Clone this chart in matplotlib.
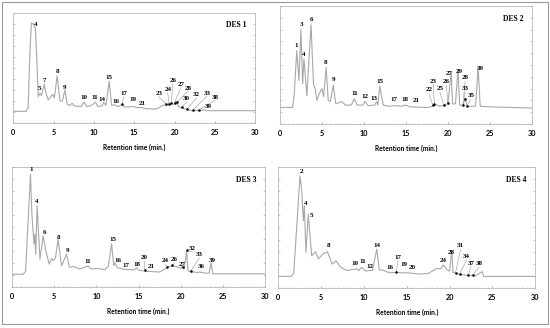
import numpy as np
import matplotlib.pyplot as plt
from matplotlib.patches import Rectangle

# ---- DES 1 trace (time in min, signal in % of panel height) ----
des1_t = [0, 1.6, 1.85, 2.05, 2.25, 2.5, 2.75, 2.95, 3.1, 3.3, 3.5, 3.85, 4.1, 4.35, 4.9, 5.1, 5.45,
          5.8, 6.1, 6.4, 6.7, 7.0, 7.3, 7.6, 8.4, 8.8, 9.1, 9.6, 10.2, 10.5, 11.0, 11.2, 11.5,
          11.9, 12.2, 12.6, 13.0, 13.45, 13.8, 14.9, 15.4, 15.9, 16.5, 17.5, 18.0, 18.5, 19.2,
          19.6, 19.9, 20.2, 20.5, 21.0, 22.0, 23.0, 23.6, 24.0, 30]
des1_y = [10.6, 10.6, 14, 60, 91, 90, 86, 55, 24, 27, 25, 35, 26, 21, 26, 23, 43,
          20, 20, 30, 17, 16, 18, 15.5, 15, 19, 15, 15.5, 19, 15, 15.5, 19, 16,
          38, 16, 16.5, 15, 16.5, 14.5, 15, 14, 14, 13, 12.7, 13.5, 16, 16.5,
          18, 17, 20, 15, 13.5, 11.5, 11.2, 12, 11.2, 11.2]
des1_lab = ['4', '5', '7', '8', '9', '10', '11', '14', '15', '16', '17', '19', '21', '23', '24',
            '26', '27', '28', '30', '32', '33', '38', '39']
des1_lt = [2.73, 3.31, 3.81, 5.46, 6.41, 8.81, 10.1, 11.05, 11.83, 12.75, 13.7, 14.86, 16.0,
           18.04, 19.16, 19.78, 20.77, 21.64, 21.48, 22.72, 24.0, 25.0, 24.2]
des1_ly = [89.4, 31.8, 38.5, 47, 32.4, 23.3, 23.3, 21.8, 41.8, 19.7, 26.7, 21.2, 18.2,
           27, 30.3, 38.5, 35.1, 31.8, 22.1, 25.8, 27.3, 23.6, 15.2]
des1_ptr = {'17': 13.45, '23': 19.0, '24': 19.3, '26': 19.6, '27': 20.0, '28': 20.3,
            '30': 20.9, '32': 21.6, '33': 22.3, '38': 23.0}

# ---- DES 2 ----
des2_t = [0, 1.5, 1.7, 2.0, 2.26, 2.5, 2.7, 2.86, 3.2, 3.7, 4.0, 4.2, 4.4, 4.7, 5.0, 5.2, 5.5,
          5.75, 6.0, 6.35, 6.65, 7.35, 7.8, 8.5, 8.85, 9.2, 9.9, 10.1, 10.5, 11.3, 11.5, 11.65,
          11.9, 12.3, 13.0, 13.6, 14.5, 14.9, 15.5, 17.5, 18.0, 18.2, 18.5, 19.0, 19.5, 20.0,
          20.4, 20.55, 20.9, 21.2, 21.4, 21.8, 22.05, 22.3, 22.8, 23.3, 23.6, 23.85, 25, 30]
des2_y = [14, 14, 25, 62, 37, 80, 34, 55, 24, 84, 33, 30, 20, 26, 30, 23, 48,
          20, 19, 33, 17, 19, 16, 16, 21.5, 16, 16, 19, 15.5, 16, 19, 16,
          32, 16, 15, 15.5, 15, 16, 14.5, 14, 14.5, 15.5, 16.5, 15, 16, 17,
          44, 17, 17, 46, 16, 16, 21.5, 15, 15, 15, 48, 15, 14.5, 13.5]
des2_lab = ['1', '3', '4', '6', '8', '9', '11', '12', '13', '15', '17', '18', '21', '22', '23',
            '25', '26', '27', '29', '28', '33', '35', '39']
des2_lt = [1.91, 2.58, 2.86, 3.7, 5.45, 6.36, 8.86, 10.13, 11.17, 11.96, 13.51, 14.94, 16.17,
           17.72, 18.24, 19.04, 19.83, 20.15, 21.38, 22.05, 22.05, 22.75, 23.84]
des2_ly = [66.6, 84, 58.8, 88.8, 52.4, 37.5, 25.8, 23, 21.6, 36.1, 20.7, 20.7, 20.2,
           29.1, 36.4, 30.0, 35.6, 43.1, 44.5, 39.2, 29.8, 23.8, 47]
des2_ptr = {'22': 18.2, '23': 18.4, '25': 19.5, '26': 20.0, '28': 21.8, '33': 22.0, '35': 22.3}

# ---- DES 3 ----
des3_t = [0, 1.3, 1.6, 2.18, 2.35, 2.6, 2.7, 2.8, 2.97, 3.3, 3.68, 4.0, 4.4, 4.67, 4.9, 5.15,
          5.46, 5.86, 6.45, 6.8, 7.3, 8.0, 9.0, 9.4, 10.0, 11.0, 11.4, 11.8, 12.05, 12.2, 12.5,
          13.5, 14.5, 14.76, 15.0, 16.0, 17.5, 18.0, 18.5, 19.0, 19.5, 20.0, 20.2, 20.4, 20.7,
          20.85, 21.0, 22.0, 22.2, 23.0, 23.35, 23.6, 23.8, 30]
des3_y = [10.6, 10.6, 13, 94, 60, 35.7, 44, 27, 67.7, 23, 42.6, 30, 19, 23.7, 22, 24.5,
          39.8, 17.5, 27.3, 16.5, 17, 15, 17.5, 15, 15.5, 14.5, 17, 35.7, 18, 20, 16,
          14.5, 14.5, 16, 14, 13, 12.5, 14.5, 17, 17.5, 17, 15.5, 17, 15, 30,
          14, 13, 12, 12.5, 11.5, 11.5, 20.3, 11, 11]
des3_lab = ['1', '4', '6', '8', '9', '11', '15', '16', '17', '18', '20', '21', '24', '26', '27',
            '32', '33', '36', '39']
des3_lt = [2.22, 2.89, 3.8, 5.5, 6.57, 8.98, 11.91, 12.5, 13.46, 14.76, 15.67, 16.47, 18.2,
           19.28, 20.19, 21.37, 22.2, 22.4, 23.75]
des3_ly = [97.5, 71.3, 45.4, 41.2, 30.6, 21.2, 39.3, 22.3, 17.6, 18.9, 24.5, 16.7, 21.7,
           22.6, 18.9, 32.3, 27.3, 16.7, 21.7]
des3_ptr = {'20': 15.7, '24': 18.4, '26': 19.0, '27': 20.3, '32': 20.7, '33': 21.2}

# ---- DES 4 ----
des4_t = [0, 1.5, 1.8, 2.53, 2.75, 2.92, 3.04, 3.23, 3.5, 3.9, 4.36, 4.68, 5.2, 5.73, 6.3,
          6.74, 7.3, 8.0, 9.15, 9.4, 9.74, 10.2, 10.6, 11.0, 11.5, 11.8, 12.3, 13.0, 13.8,
          14.5, 15.2, 16.5, 17.5, 18.0, 18.5, 19.0, 19.3, 19.7, 20.0, 20.26, 20.4, 21.0, 22.0,
          23.0, 23.8, 24.0, 30]
des4_y = [9.6, 9.6, 12, 92.6, 80, 55.5, 67.8, 29.4, 61, 26.6, 30, 24, 28, 30, 19.8,
          22.5, 17, 14.5, 15.7, 14.5, 17, 14, 14.5, 14.5, 32, 15, 14.5, 12.5, 13,
          12.5, 12.5, 11.5, 12, 14, 16, 16, 19, 15, 14, 31, 13, 11.5, 10.5,
          10, 13.5, 9.5, 9.6]
des4_lab = ['2', '4', '5', '8', '10', '11', '12', '14', '16', '17', '19', '20', '24', '28', '31',
            '34', '37', '38']
des4_lt = [2.73, 3.23, 3.82, 5.84, 8.96, 9.9, 10.7, 11.57, 13.05, 13.95, 14.69, 15.66, 19.28,
           20.18, 21.3, 22.0, 22.5, 23.45]
des4_ly = [96, 70, 59.6, 34.9, 20.3, 21.7, 17.9, 35.4, 16.8, 25.3, 19, 17, 22.5, 29.4, 34.9,
           26.1, 20.6, 20.3]
des4_ptr = {'17': 13.8, '31': 20.7, '34': 21.2, '37': 22.2, '38': 22.7}

panels = [
    ('DES 1', des1_t, des1_y, des1_lab, des1_lt, des1_ly, des1_ptr, [0.024, 0.625, 0.44, 0.335]),
    ('DES 2', des2_t, des2_y, des2_lab, des2_lt, des2_ly, des2_ptr, [0.509, 0.622, 0.458, 0.36]),
    ('DES 3', des3_t, des3_y, des3_lab, des3_lt, des3_ly, des3_ptr, [0.022, 0.125, 0.46, 0.366]),
    ('DES 4', des4_t, des4_y, des4_lab, des4_lt, des4_ly, des4_ptr, [0.506, 0.122, 0.467, 0.369]),
]

plt.rcParams['font.family'] = ['Lato', 'DejaVu Sans']
plt.rcParams['font.weight'] = 'bold'

line_col = '#a8a8a8'
fig = plt.figure(figsize=(5.5, 3.28), dpi=100)

# outer frame
fig.patches.append(Rectangle((0.004, 0.012), 0.992, 0.983, transform=fig.transFigure,
                             fill=False, edgecolor='#9a9a9a', linewidth=0.8))

for name, t, y, lab, lt, ly, ptr, pos in panels:
    ax = fig.add_axes(pos)
    ax.plot(t, y, color=line_col, linewidth=0.8)
    ax.set_xlim(0, 30)
    ax.set_ylim(0, 100)
    for s in ax.spines.values():
        s.set_color('#b8b8b8')
        s.set_linewidth(0.6)
    ax.set_xticks([0, 5, 10, 15, 20, 25, 30])
    ax.set_xticks(np.arange(0, 30.1, 0.5), minor=True)
    ax.set_yticks(np.arange(0, 101, 10))
    ax.set_yticklabels([])
    ax.tick_params(axis='x', which='major', length=1.5, color='#b0b0b0', pad=4,
                   labelsize=5.2, direction='in')
    ax.tick_params(axis='x', which='minor', length=1, color='#c8c8c8', direction='in')
    ax.tick_params(axis='y', length=1.5, color='#c8c8c8', direction='in', right=True)
    ax.set_xlabel('Retention time (min.)', fontsize=4.8, fontweight='bold', labelpad=6)

    for k, s in enumerate(lab):
        ax.text(lt[k], ly[k], s, ha='center', va='center', fontsize=5, fontweight='bold',
                family='Liberation Serif')
        if s in ptr:
            px = ptr[s]
            py = np.interp(px, t, y)
            ax.plot([lt[k], px], [ly[k] - 3, py + 0.5], color='#888888', linewidth=0.35)
            ax.plot(px, py + 0.5, 'o', color='black', markersize=0.8)
    ax.text(0.965, 0.89, name, transform=ax.transAxes, ha='right', va='center',
            fontsize=5.5, fontweight='bold', family='Liberation Serif')

plt.savefig('out.png', dpi=100)
